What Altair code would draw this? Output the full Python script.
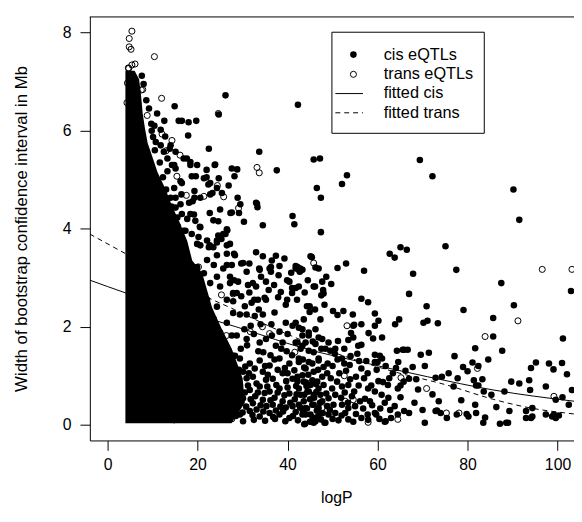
import altair as alt
import pandas as pd

# ---------------- data ----------------
x_ticks = [0, 20, 40, 60, 80, 100]
y_ticks = [0, 2, 4, 6, 8]
legend_labels = ["cis eQTLs", "trans eQTLs", "fitted cis", "fitted trans"]

# saturated (completely overplotted) block of cis points: right edge per height
core_y = [0.03, 0.45, 0.95, 1.55, 1.95, 2.4, 2.75, 3.1, 3.35, 3.75, 4.15, 4.45,
          4.8, 5.15, 5.45, 5.75, 6.05, 6.35, 6.75, 7.05, 7.22]
core_x_right = [27.5, 30.5, 30.0, 27.6, 25.4, 23.2, 22.1, 21.0, 18.8, 17.7, 15.9, 14.4,
                12.9, 11.1, 10.0, 8.9, 8.3, 7.8, 7.4, 7.0, 6.0]
core_x_left = [3.95] * len(core_y)

cis_pts = [
    (26.2, 6.72), (14.9, 6.50), (42.3, 6.53), (24.7, 6.33), (12.6, 6.20), (15.8, 6.20), (16.5, 6.20),
    (18.0, 6.17), (19.7, 6.20), (17.9, 5.90), (10.4, 6.10), (9.8, 6.00), (10.1, 5.87), (9.7, 6.14),
    (22.5, 5.63), (33.7, 5.57), (45.8, 5.41), (47.2, 5.43), (37.6, 5.19), (46.5, 4.83), (47.4, 4.63),
    (47.4, 3.93), (41.1, 4.26), (41.5, 4.09), (34.5, 4.07), (33.2, 4.51), (33.3, 4.44), (28.8, 5.21),
    (28.2, 5.07), (22.0, 5.20), (22.0, 5.05), (23.8, 5.30), (18.7, 5.07), (19.6, 5.07), (24.7, 5.03),
    (26.9, 4.88), (22.4, 4.90), (23.3, 4.73), (28.9, 4.63), (29.5, 4.50), (27.3, 4.32), (22.7, 4.32),
    (23.5, 4.17), (24.6, 4.15), (30.3, 4.14), (20.5, 4.04), (26.6, 3.97), (26.2, 3.89), (24.6, 3.86),
    (25.3, 3.79), (22.7, 3.66), (23.5, 3.62), (18.9, 4.56), (19.3, 4.63), (16.5, 4.93), (16.4, 4.70),
    (15.1, 4.63), (14.3, 5.30), (15.1, 5.23), (17.6, 5.43), (18.4, 5.30), (13.3, 5.43), (11.8, 5.70),
    (12.5, 5.57), (10.7, 5.77), (13.8, 5.63), (15.1, 4.43), (16.5, 4.30), (18.4, 4.30), (19.5, 4.16),
    (17.3, 3.96), (18.7, 3.89), (20.2, 3.83), (15.1, 4.03), (15.8, 3.89), (29.2, 4.32), (33.0, 4.53),
    (28.1, 3.49), (33.0, 3.52), (34.5, 3.44), (37.4, 3.45), (39.3, 3.39), (45.1, 3.44), (26.5, 3.99),
    (23.9, 5.31), (27.6, 5.23), (21.4, 5.03), (22.8, 4.93), (24.3, 4.83), (22.8, 4.70), (25.4, 4.73),
    (19.3, 4.77), (20.6, 4.63), (18.1, 4.53), (27.6, 4.33), (25.0, 4.39), (25.7, 3.89), (20.6, 4.03),
    (16.9, 3.96), (15.5, 3.79), (19.9, 3.69), (22.1, 3.76), (24.3, 3.76), (27.2, 3.69), (14.0, 5.70),
    (15.1, 5.57), (16.9, 5.43), (18.4, 5.36), (19.9, 5.30), (14.8, 5.30), (13.3, 5.17), (16.2, 4.97),
    (14.8, 4.83), (14.0, 4.63), (16.2, 4.50), (13.3, 4.36), (15.5, 4.23), (17.7, 4.20), (13.3, 4.03),
    (19.2, 4.29),
    (8.6, 6.62), (9.2, 6.45), (8.0, 6.95), (7.6, 7.12), (11.0, 6.35), (11.8, 6.02), (12.8, 5.88),
    (10.5, 5.60), (11.6, 5.35), (12.3, 5.05), (13.0, 4.80), (14.2, 4.45), (15.6, 4.05), (16.8, 3.70),
    (17.8, 3.40), (19.2, 3.05), (20.4, 2.55), (21.5, 2.05), (23.0, 1.75), (24.8, 1.45), (26.0, 1.20),
    (20.6, 3.66), (22.5, 3.62), (24.3, 3.72), (26.5, 3.66), (24.3, 3.46), (26.5, 3.49), (28.3, 3.46),
    (22.1, 3.36), (23.6, 3.26), (25.7, 3.19), (27.6, 3.26), (19.9, 3.22), (21.4, 3.09), (24.3, 3.02),
    (27.2, 3.02), (22.8, 2.89), (25.0, 2.82), (27.9, 2.69), (20.6, 2.75), (22.1, 2.55), (26.5, 2.55),
    (24.3, 2.41), (27.9, 2.28), (21.4, 2.28), (23.6, 2.15), (26.5, 2.08), (22.1, 1.95), (25.0, 1.88),
    (27.6, 1.82), (20.6, 1.75), (23.6, 1.61), (26.5, 1.55), (27.9, 1.41), (22.1, 1.45),
    (29.7, 3.29), (31.5, 3.29), (33.7, 3.19), (36.3, 3.22), (36.3, 3.12), (39.9, 2.95), (42.8, 3.19),
    (45.4, 3.42), (46.9, 3.19), (41.0, 2.79), (42.1, 2.55), (44.3, 2.42), (45.8, 2.82), (48.0, 2.68),
    (28.1, 2.95), (31.2, 2.85), (34.1, 3.02), (37.0, 2.85), (38.5, 2.71), (39.9, 2.55), (35.2, 2.55),
    (32.6, 2.55), (29.7, 2.62),
    (41.8, 3.24), (43.3, 3.16), (47.7, 2.92), (26.5, 3.26), (30.1, 3.30), (30.9, 3.12), (33.8, 3.16),
    (36.0, 3.19), (38.2, 3.24), (40.4, 2.92), (41.0, 2.69), (27.2, 2.89), (29.0, 2.92), (28.7, 2.69),
    (27.9, 2.52), (30.5, 2.42), (32.0, 2.49), (33.4, 2.55), (34.9, 2.59), (33.0, 2.82), (32.3, 2.89),
    (35.2, 2.92), (37.1, 2.29), (39.6, 2.45), (34.5, 2.25), (32.7, 2.22), (30.9, 2.25), (29.4, 2.25),
    (39.6, 2.08), (41.1, 2.02), (43.3, 1.95), (44.7, 1.82), (46.2, 1.65), (47.7, 1.75), (41.8, 1.68),
    (43.3, 1.61), (40.0, 1.85), (38.9, 1.68), (37.4, 1.61), (35.2, 1.75), (33.8, 1.68), (30.9, 1.75),
    (28.7, 1.82), (36.4, 2.05), (31.8, 2.02), (29.6, 1.55), (34.6, 1.48), (39.8, 1.50),
    (31.5, 2.70), (33.6, 2.35), (35.8, 2.75), (37.9, 2.60), (36.5, 3.35), (40.8, 3.10), (38.0, 3.05),
    (43.8, 2.70), (44.5, 2.95), (34.0, 2.05), (38.2, 1.90), (30.4, 1.95), (32.5, 1.85), (36.5, 1.82),
    (27.2, 1.28), (29.4, 1.35), (31.6, 1.25), (33.8, 1.31), (36.0, 1.21), (38.2, 1.35), (40.4, 1.25),
    (42.5, 1.35), (44.7, 1.28), (46.9, 1.31), (27.9, 1.01), (30.1, 1.08), (32.3, 0.98), (34.5, 1.08),
    (36.7, 0.94), (38.9, 1.05), (41.1, 0.94), (43.3, 1.01), (45.5, 0.91), (47.7, 0.98), (27.2, 0.74),
    (29.4, 0.81), (31.6, 0.71), (33.8, 0.78), (36.0, 0.68), (38.2, 0.74), (40.4, 0.64), (42.5, 0.74),
    (44.7, 0.68), (46.9, 0.74), (27.9, 0.48), (30.1, 0.54), (32.3, 0.44), (34.5, 0.51), (36.7, 0.41),
    (38.9, 0.48), (41.1, 0.38), (43.6, 0.48), (45.8, 0.41), (47.7, 0.48), (29.4, 0.21), (31.6, 0.28),
    (33.8, 0.17), (36.0, 0.24), (38.2, 0.21), (40.4, 0.14), (44.0, 0.21), (46.2, 0.14), (27.2, 0.11),
    (30.1, 0.07),
    (28.3, 1.41), (30.6, 1.19), (32.7, 1.15), (35.0, 1.20), (37.1, 1.33), (39.4, 1.16), (41.5, 1.11),
    (43.7, 1.17), (45.8, 1.08), (28.6, 0.89), (30.9, 0.95), (33.1, 0.84), (35.2, 0.92), (37.5, 0.81),
    (39.7, 0.89), (41.9, 0.79), (44.1, 0.86), (46.3, 0.83), (28.3, 0.62), (30.5, 0.66), (32.8, 0.58),
    (34.9, 0.65), (37.1, 0.55), (39.3, 0.60), (41.6, 0.52), (43.7, 0.61), (45.9, 0.55), (28.7, 0.34),
    (30.8, 0.37), (33.1, 0.31), (35.3, 0.38), (37.4, 0.29), (39.6, 0.35), (41.8, 0.26), (44.3, 0.33),
    (46.5, 0.29), (28.5, 0.18), (32.5, 0.10), (35.0, 0.08), (37.2, 0.12), (39.5, 0.07), (42.3, 0.09),
    (45.0, 0.06), (47.4, 0.11),
    (31.0, 1.62), (33.5, 1.50), (36.2, 1.42), (38.6, 1.55), (41.0, 1.42), (43.4, 1.33), (45.6, 1.70),
    (47.5, 1.55), (29.2, 1.12), (31.4, 1.05), (35.6, 1.02), (37.8, 1.12), (40.0, 1.05), (42.2, 0.89),
    (44.6, 1.02), (46.8, 1.12), (48.9, 1.25), (29.0, 0.70), (31.2, 0.80), (33.4, 0.66), (35.5, 0.78),
    (37.8, 0.66), (40.0, 0.76), (42.0, 0.62), (44.2, 0.79), (46.4, 0.67), (48.6, 0.64), (29.5, 0.45),
    (31.8, 0.52), (34.0, 0.40), (36.2, 0.50), (38.4, 0.37), (40.6, 0.45), (42.8, 0.35), (45.0, 0.52),
    (47.2, 0.45), (49.4, 0.30), (30.0, 0.25), (32.2, 0.20), (34.6, 0.27), (36.8, 0.16), (39.0, 0.27),
    (41.2, 0.18), (43.4, 0.28), (45.6, 0.15), (47.8, 0.24), (50.0, 0.12),
    (51.5, 1.05), (53.8, 1.22), (55.9, 1.30), (57.8, 1.05), (59.8, 1.12), (61.8, 1.20), (52.7, 0.66),
    (55.8, 0.80), (57.0, 0.95), (60.9, 0.61), (62.4, 0.55), (51.9, 0.55), (53.4, 0.45), (56.8, 0.33),
    (58.8, 0.40), (60.6, 0.33), (62.8, 0.30), (52.0, 0.19), (55.2, 0.22), (57.9, 0.10), (60.4, 0.12),
    (63.0, 0.14), (67.8, 1.18), (69.0, 0.72), (70.5, 1.20), (72.2, 0.62), (75.8, 1.05), (77.8, 0.95),
    (78.6, 0.50), (68.2, 0.45), (70.0, 0.30), (62.6, 0.95), (66.2, 1.10), (61.6, 0.45),
    (69.4, 5.40), (72.2, 5.07), (53.2, 5.09), (52.1, 4.91), (90.2, 4.80), (91.5, 4.18), (62.7, 3.49),
    (63.8, 3.41), (65.1, 3.62), (66.5, 3.57), (75.1, 3.64), (42.2, 3.22), (42.7, 3.12), (51.1, 3.20),
    (53.0, 3.29), (57.0, 3.14), (77.5, 3.16), (67.9, 3.08), (87.5, 2.89), (48.6, 3.02), (49.7, 2.87),
    (47.9, 2.75), (46.1, 2.82), (47.5, 2.64), (67.0, 2.67), (56.4, 2.57), (57.9, 2.50), (70.9, 2.42),
    (79.1, 2.34), (90.3, 2.44), (103.0, 2.73), (85.7, 2.18), (44.9, 2.42), (46.1, 2.35), (44.9, 2.30),
    (47.3, 2.15), (48.2, 2.45), (50.1, 2.32), (51.1, 2.24), (52.4, 2.32), (54.5, 2.25), (54.8, 2.04),
    (59.4, 2.27), (60.2, 2.12), (59.4, 2.02), (63.9, 2.05), (64.8, 2.15), (70.2, 2.08), (71.1, 2.12),
    (73.4, 2.07), (85.7, 1.80), (81.7, 1.56), (87.7, 1.51), (101.2, 1.76), (77.1, 1.40), (84.6, 1.33),
    (79.0, 1.18), (80.0, 1.09), (81.1, 1.27), (82.4, 1.20), (81.4, 0.91), (82.4, 0.80), (83.3, 0.93),
    (94.1, 1.16), (95.2, 1.27), (98.1, 1.25), (99.1, 1.13), (101.0, 1.26), (102.1, 1.03), (103.2, 0.71),
    (89.7, 0.88), (91.5, 0.84), (93.7, 0.91), (93.9, 0.71), (97.4, 0.78), (99.6, 0.51), (101.1, 0.56),
    (88.2, 0.68), (85.3, 0.61), (83.6, 0.68), (81.9, 0.80), (86.4, 0.36), (89.3, 0.28), (93.0, 0.28),
    (94.4, 0.34), (99.2, 0.21), (100.3, 0.19), (102.5, 0.41), (83.5, 0.04), (87.2, 0.02), (89.0, 0.04),
    (94.1, 0.14), (97.4, 0.21), (81.7, 0.41), (81.9, 0.24), (80.2, 0.17), (83.9, 0.15), (76.9, 0.78),
    (74.3, 0.98), (72.9, 0.96), (73.6, 0.48), (72.9, 0.28), (74.0, 0.24), (75.4, 0.14), (77.6, 0.21),
    (79.8, 0.22), (70.5, 0.04), (69.6, 1.43), (71.4, 1.47), (65.9, 1.53), (66.7, 1.53), (64.6, 1.28),
    (64.1, 1.16), (63.4, 1.05), (61.0, 1.35), (60.0, 1.28), (68.6, 0.93), (67.0, 0.94), (65.1, 0.80),
    (65.8, 0.88), (64.5, 0.74), (65.1, 0.56), (63.8, 0.38), (64.5, 0.21), (65.9, 0.28), (67.0, 0.24),
    (61.8, 0.07), (59.7, 0.21), (59.4, 0.24), (57.8, 0.21), (56.4, 0.14), (54.6, 0.06), (51.3, 0.09),
    (48.4, 0.04), (46.2, 0.07), (43.9, 0.02), (60.2, 0.89), (61.2, 0.87), (62.3, 0.81), (58.6, 0.80),
    (57.9, 0.74), (59.4, 0.68), (57.2, 0.53), (58.3, 0.48), (56.1, 0.48), (54.3, 0.58), (54.8, 0.68),
    (53.5, 0.81), (52.1, 0.78), (56.4, 1.15), (55.2, 0.98), (53.9, 0.93), (52.6, 1.25), (52.1, 1.35),
    (51.1, 1.33), (52.6, 1.55), (53.5, 1.73), (54.6, 1.78), (55.7, 1.61), (56.4, 1.63), (59.0, 1.76),
    (61.0, 1.78), (58.0, 1.87), (51.2, 1.71), (49.1, 1.68), (48.4, 1.55), (49.5, 1.51), (50.6, 1.55),
    (41.8, 2.08), (42.5, 1.98), (43.6, 2.15), (44.7, 1.88), (43.3, 1.82), (42.2, 1.68), (44.0, 1.68),
    (46.2, 1.95), (46.9, 1.78), (42.9, 1.55), (44.7, 1.51), (45.8, 1.48), (46.9, 1.35), (42.5, 1.28),
    (44.0, 1.15), (45.5, 1.25), (48.0, 1.18), (48.8, 1.05), (42.2, 0.98), (43.6, 0.88), (45.1, 0.81),
    (46.6, 0.88), (48.0, 0.81), (49.9, 0.74), (50.6, 0.61), (49.1, 0.54), (47.3, 0.61), (45.8, 0.61),
    (44.4, 0.68), (42.9, 0.61), (42.5, 0.41), (44.0, 0.34), (45.5, 0.41), (46.9, 0.34), (48.8, 0.38),
    (50.2, 0.41), (52.1, 0.41), (53.5, 0.34), (55.0, 0.38), (43.3, 0.21), (45.1, 0.21), (46.9, 0.21),
    (49.1, 0.21), (50.6, 0.24), (52.8, 0.24), (41.8, 3.19), (42.5, 3.16), (41.8, 2.79), (42.5, 2.82),
    (46.2, 3.21), (56.4, 2.05), (54.6, 2.02), (54.1, 1.87), (59.4, 1.43), (60.5, 1.41), (59.4, 1.28),
    (64.3, 1.51), (65.6, 1.53), (50.0, 1.20), (49.6, 0.95), (51.0, 0.88), (50.5, 1.45), (54.0, 1.40),
    (53.0, 1.10), (57.5, 1.30), (55.5, 1.45), (43.7, 0.01), (45.8, 0.04), (48.2, 0.04), (53.5, 0.11),
    (61.6, 0.06), (88.6, 0.04), (93.0, 0.14), (94.4, 0.17), (98.8, 0.17), (99.6, 0.14), (73.2, 0.29),
]

trans_pts = [
    (5.4, 8.03), (4.8, 7.88), (4.8, 7.71), (5.2, 7.66), (10.4, 7.51), (6.1, 7.36), (5.4, 7.34),
    (4.7, 7.27), (7.8, 6.84), (12.0, 6.66), (6.7, 6.56), (8.8, 6.31), (24.6, 6.35), (12.1, 5.93),
    (14.3, 5.80), (16.1, 5.50), (33.2, 5.25), (33.7, 5.14), (15.4, 5.07), (24.4, 4.88), (21.4, 4.66),
    (25.8, 4.65), (29.1, 4.42), (13.0, 5.59), (17.5, 4.68), (45.8, 3.30), (25.3, 2.65), (27.9, 2.67),
    (21.5, 2.47), (34.4, 2.00), (36.0, 1.86), (26.4, 1.82), (31.7, 1.90), (41.6, 1.48), (20.2, 3.22),
    (17.3, 2.69), (20.9, 0.38), (9.4, 0.13), (14.8, 0.10), (20.6, 0.12), (27.6, 0.12), (47.7, 0.35),
    (57.9, 0.05), (64.5, 0.11), (75.3, 0.24), (78.1, 0.24), (53.2, 2.02), (52.6, 1.00), (65.2, 0.96),
    (70.9, 0.74), (54.6, 0.51), (52.8, 0.48), (82.2, 1.15), (83.9, 1.80), (91.2, 2.12), (96.6, 3.17),
    (103.2, 3.17), (99.2, 0.58), (4.6, 7.28), (4.9, 7.14), (4.4, 6.97), (4.9, 6.84), (4.3, 6.57),
    (6.7, 6.57), (7.5, 6.83), (5.6, 6.37),
]

fit_cis_x = [-3.95, 4.0, 28.5, 46.0, 56.4, 71.1, 85.7, 103.7]
fit_cis_y = [2.95, 2.69, 2.00, 1.50, 1.28, 0.98, 0.71, 0.48]
fit_trans_x = [-3.95, 4.0, 22.4, 28.2, 36.2, 46.3, 63.8, 75.4, 85.7, 93.0, 103.7]
fit_trans_y = [3.89, 3.49, 2.59, 2.35, 2.00, 1.61, 1.08, 0.81, 0.52, 0.36, 0.22]

# ---------------- chart ----------------
FONT = "Liberation Sans"
W, H = 491, 430
DOT, RING = 44, 38

core_df = pd.DataFrame({"y": core_y, "x": core_x_right, "x2": core_x_left})
cis_df = pd.DataFrame(cis_pts, columns=["x", "y"])
trans_df = pd.DataFrame(trans_pts, columns=["x", "y"])
fc_df = pd.DataFrame({"x": fit_cis_x, "y": fit_cis_y})
ft_df = pd.DataFrame({"x": fit_trans_x, "y": fit_trans_y})

xs = alt.Scale(domain=[-3.95, 103.66], nice=False, zero=False)
ys = alt.Scale(domain=[-0.32, 8.33], nice=False, zero=False)

X = alt.X("x:Q", scale=xs, axis=alt.Axis(
    values=x_ticks, title="logP", grid=False, labelFont=FONT, labelFontSize=16,
    labelColor="black", tickColor="black", domainColor="black", tickSize=10,
    labelPadding=6, titleFont=FONT, titleFontSize=16, titleFontWeight="normal",
    titleColor="black", titleX=250, titleY=63, titleBaseline="alphabetic",
    titleAlign="center", labelFlush=False))
Y = alt.Y("y:Q", scale=ys, axis=alt.Axis(
    values=y_ticks, title="Width of bootstrap confidence interval in Mb", grid=False,
    labelFont=FONT, labelFontSize=16, labelColor="black", tickColor="black",
    domainColor="black", tickSize=10, labelPadding=9, labelAngle=0, titleFont=FONT,
    titleFontSize=17, titleFontWeight="normal", titleColor="black", titleX=-69,
    titleY=215, titleAngle=270, titleBaseline="middle", titleAlign="center",
    labelFlush=False))

core = alt.Chart(core_df).mark_area(orient="horizontal", color="black", clip=True).encode(
    y=Y, x=X, x2="x2:Q")
cis = alt.Chart(cis_df).mark_circle(size=DOT, color="black", opacity=1, clip=True).encode(x=X, y=Y)
trans = alt.Chart(trans_df).mark_point(shape="circle", filled=False, size=RING, color="black",
                                       strokeWidth=1, opacity=1, clip=True).encode(x=X, y=Y)
fcis = alt.Chart(fc_df).mark_line(color="black", strokeWidth=1, clip=True,
                                  interpolate="monotone").encode(x=X, y=Y)
ftrans = alt.Chart(ft_df).mark_line(color="black", strokeWidth=1, strokeDash=[5, 4], clip=True,
                                    interpolate="monotone").encode(x=X, y=Y)

one = pd.DataFrame({"k": [0]})
frame_top = alt.Chart(one).mark_rule(color="black", strokeWidth=1).encode(
    x=alt.value(0), x2=alt.value(W), y=alt.value(0.5))

# legend (drawn by hand, like R's legend())
LX0, LX1, LY0, LY1 = 245.5, 400, 16, 118.5
box = alt.Chart(one).mark_rect(fill="white", stroke="black", strokeWidth=1).encode(
    x=alt.value(LX0), x2=alt.value(LX1), y=alt.value(LY0), y2=alt.value(LY1))
rows = [38.7, 58.7, 78.2, 97.7]
sym_x, txt_x = 267.3, 298
leg = [box,
       alt.Chart(one).mark_circle(size=DOT, color="black", opacity=1).encode(
           x=alt.value(sym_x), y=alt.value(rows[0])),
       alt.Chart(one).mark_point(shape="circle", filled=False, size=RING, color="black",
                                 strokeWidth=1, opacity=1).encode(
           x=alt.value(sym_x), y=alt.value(rows[1])),
       alt.Chart(one).mark_rule(color="black", strokeWidth=1).encode(
           x=alt.value(249), x2=alt.value(277), y=alt.value(rows[2])),
       alt.Chart(one).mark_rule(color="black", strokeWidth=1, strokeDash=[5, 4]).encode(
           x=alt.value(249), x2=alt.value(277), y=alt.value(rows[3]))]
for lab, ry in zip(legend_labels, rows):
    leg.append(alt.Chart(one).mark_text(text=lab, font=FONT, fontSize=16.5, color="black",
                                        align="left", baseline="middle").encode(
        x=alt.value(txt_x), y=alt.value(ry)))

chart = alt.layer(core, fcis, ftrans, cis, trans, frame_top, *leg).properties(
    width=W, height=H,
    padding={"left": 83, "top": 5, "right": 0, "bottom": 70},
    autosize=alt.AutoSizeParams(type="none"),
    background="white",
).configure_view(stroke=None)

chart.save("out.html", embed_options={"renderer": "svg", "actions": False})
